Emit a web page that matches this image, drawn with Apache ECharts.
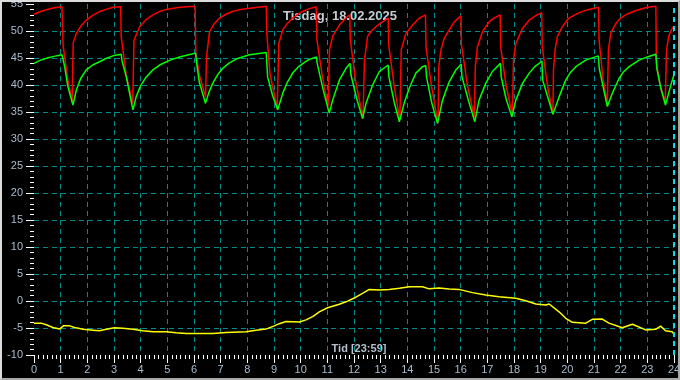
<!DOCTYPE html>
<html>
<head>
<meta charset="utf-8">
<script src="https://cdn.jsdelivr.net/npm/echarts@6/dist/echarts.min.js"></script>
<style>
html,body{margin:0;padding:0;background:#000;}
#chart{position:absolute;left:0;top:0;width:680px;height:380px;}
#frame{position:absolute;left:0;top:0;width:680px;height:380px;box-sizing:border-box;border:2px solid;border-color:#dcdcdc #a8a8a8 #a8a8a8 #dcdcdc;pointer-events:none;}
</style>
</head>
<body>
<div id="chart"></div>
<div id="frame"></div>
<script>
// Hours of day (x) and temperatures in °C (y)
const supplyTemp = [
[0,53.1],[0.25,53.6],[0.5,54.0],[0.75,54.3],[1.05,54.5],
[1.09,47.4],[1.27,41.0],[1.43,36.8],
[1.46,36.8],[1.47,47.8],[1.59,49.6],[1.77,51.0],[1.96,52.0],[2.2,52.9],[2.46,53.6],[2.7,54.0],[2.96,54.4],[3.25,54.5],
[3.27,48.9],[3.46,41.8],[3.70,36.6],
[3.74,36.6],[3.75,48.3],[3.96,50.8],[4.2,52.1],[4.46,53.0],[4.7,53.6],[4.96,54.0],[5.46,54.4],[6.04,54.6],
[6.07,45.9],[6.2,41.9],[6.43,37.8],
[6.46,37.8],[6.47,45.2],[6.58,49.8],[6.75,51.3],[6.96,52.4],[7.2,53.1],[7.45,53.6],[7.75,54.0],[8.08,54.2],[8.40,54.4],[8.71,54.6],
[8.73,49.6],[8.85,42.0],[9.12,35.7],
[9.17,35.7],[9.18,47.7],[9.33,50.2],[9.5,51.4],[9.70,52.4],[9.9,53.1],[10.07,53.6],[10.3,54.1],[10.58,54.5],
[10.61,48.3],[10.8,42.0],[11.03,36.0],
[11.07,36.0],[11.08,46.5],[11.2,49.0],[11.45,51.1],[11.7,52.4],[11.84,53.0],
[11.86,48.5],[12.05,41.0],[12.34,33.8],
[12.38,33.8],[12.39,44.6],[12.51,49.0],[12.65,50.0],[12.82,50.8],[13.07,51.7],[13.28,52.4],
[13.30,47.5],[13.5,40.0],[13.72,33.5],
[13.76,33.5],[13.77,46.5],[13.95,49.6],[14.2,51.1],[14.45,52.4],[14.68,53.0],
[14.70,47.0],[14.9,40.0],[15.15,32.9],
[15.17,32.9],[15.18,43.4],[15.26,46.5],[15.38,48.6],[15.57,50.2],[15.76,51.7],[16.01,52.8],
[16.03,47.5],[16.25,40.0],[16.51,34.1],
[16.54,34.1],[16.55,43.4],[16.63,47.1],[16.82,49.9],[17.07,51.7],[17.25,52.4],[17.48,53.0],
[17.50,47.0],[17.7,40.0],[17.94,34.4],
[17.97,34.4],[17.98,44.6],[18.07,47.7],[18.32,50.5],[18.57,52.0],[18.8,52.8],[19.04,53.4],
[19.06,47.0],[19.25,40.0],[19.46,34.6],
[19.47,34.6],[19.48,42.8],[19.54,46.5],[19.63,49.0],[19.81,50.8],[20.06,52.4],[20.44,53.4],[20.81,54.0],[21.17,54.4],
[21.19,48.3],[21.33,41.5],[21.50,36.5],
[21.53,36.4],[21.54,46.5],[21.63,49.6],[21.82,51.4],[22.0,52.4],[22.19,53.0],[22.57,53.8],[23.0,54.4],[23.32,54.6],
[23.34,44.0],[23.48,40.0],[23.67,36.9],
[23.71,36.9],[23.72,46.5],[23.80,49.0],[23.9,50.2],[24,50.9]
];

const returnTemp = [
[0,44.0],[0.25,44.6],[0.5,45.0],[0.75,45.3],[1.05,45.6],
[1.1,44.5],[1.15,43.4],[1.27,39.7],[1.46,36.3],
[1.59,39.1],[1.75,41.2],[1.96,42.8],[2.2,43.7],[2.46,44.3],[2.7,44.9],[2.96,45.4],[3.27,45.7],
[3.30,44.5],[3.46,41.5],[3.71,35.4],
[3.83,37.8],[4.0,39.9],[4.21,41.5],[4.46,42.8],[4.71,43.7],[5.1,44.6],[5.46,45.2],[5.8,45.6],[6.06,45.9],
[6.1,44.0],[6.2,40.5],[6.43,36.6],
[6.55,38.5],[6.7,40.3],[6.9,42.0],[7.08,43.1],[7.3,44.0],[7.58,44.8],[8.08,45.6],[8.71,46.0],
[8.76,41.5],[8.95,38.0],[9.14,35.4],
[9.33,38.5],[9.5,40.5],[9.7,42.2],[9.9,43.3],[10.09,44.0],[10.3,44.7],[10.59,45.2],
[10.62,44.0],[10.85,39.0],[11.07,34.8],
[11.2,37.2],[11.45,40.9],[11.7,43.1],[11.85,44.0],
[11.88,42.0],[12.1,37.5],[12.32,33.8],
[12.45,36.6],[12.7,40.0],[12.95,42.5],[13.28,43.7],
[13.31,41.5],[13.5,37.0],[13.70,33.2],
[13.88,36.6],[14.07,39.4],[14.32,42.2],[14.57,43.4],[14.69,43.6],
[14.72,41.5],[14.9,37.0],[15.13,32.9],
[15.32,37.2],[15.57,40.6],[15.82,42.8],[16.02,43.9],
[16.05,41.5],[16.3,37.0],[16.53,33.2],
[16.69,37.2],[16.94,40.3],[17.19,42.5],[17.49,44.0],
[17.52,41.5],[17.7,37.5],[17.92,34.1],
[18.07,37.2],[18.32,40.3],[18.57,42.2],[18.8,43.5],[19.05,44.4],
[19.07,41.0],[19.25,38.0],[19.46,34.6],
[19.69,37.8],[19.94,40.9],[20.1,42.2],[20.32,43.4],[20.69,44.6],[21.16,45.4],
[21.2,43.0],[21.5,36.0],
[21.69,38.5],[21.94,41.2],[22.1,42.4],[22.32,43.4],[22.69,44.6],[23.0,45.2],[23.32,45.7],
[23.36,43.0],[23.5,39.5],[23.68,36.3],
[23.8,38.5],[23.9,40.3],[24,41.9]
];

const outdoorTemp = [
[0,-4.1],[0.27,-4.1],[0.46,-4.4],[0.71,-4.9],[0.96,-5.2],[1.1,-4.6],[1.34,-4.6],[1.52,-4.9],[1.84,-5.25],
[2.21,-5.4],[2.46,-5.5],[2.71,-5.25],[3.02,-4.95],[3.33,-5.05],[3.71,-5.25],[4.08,-5.5],[4.46,-5.7],[4.96,-5.7],
[5.33,-5.9],[5.71,-6.0],[6.21,-6.0],[6.71,-6.0],[7.2,-5.85],[7.95,-5.7],[8.33,-5.4],[8.7,-5.2],[9.01,-4.6],
[9.2,-4.2],[9.45,-3.8],[9.95,-3.9],[10.2,-3.5],[10.45,-2.9],[10.7,-2.0],[11.01,-1.25],[11.45,-0.6],[11.7,-0.15],
[12.07,0.7],[12.32,1.4],[12.57,2.15],[12.95,2.05],[13.32,2.15],[13.7,2.35],[14.07,2.65],[14.57,2.65],[14.82,2.25],
[15.19,2.4],[15.57,2.2],[15.94,2.15],[16.44,1.55],[16.94,1.1],[17.44,0.8],[18.07,0.5],[18.44,0.05],[18.82,-0.55],
[19.19,-0.75],[19.32,-0.55],[19.69,-2.0],[19.94,-3.2],[20.19,-3.95],[20.69,-4.1],[20.94,-3.4],[21.31,-3.35],
[21.56,-4.1],[22.06,-4.95],[22.44,-4.3],[22.94,-5.35],[23.31,-5.25],[23.5,-4.65],[23.68,-5.5],[23.93,-5.7],[24,-6.1]
];

const titleText = 'Tisdag, 18.02.2025';
const xAxisTitle = 'Tid [23:59]';
const yAxisTitle = '°C';
const nowMarker = 24;

const labelColor = '#a9bccf';
const gridColor = '#008c8c';
const font = 'Liberation Sans, Arial, sans-serif';

const chart = echarts.init(document.getElementById('chart'));
chart.setOption({
  animation: false,
  backgroundColor: '#000',
  grid: { left: 34, right: 6, top: 4, bottom: 25, containLabel: false, outerBoundsMode: 'none' },
  xAxis: {
    type: 'value', min: 0, max: 24, interval: 1,
    axisLine: { show: false, onZero: false },
    axisTick: { show: true, length: 8, lineStyle: { color: '#fff', width: 1 } },
    minorTick: { show: true, splitNumber: 6, length: 4, lineStyle: { color: '#fff', width: 1 } },
    axisLabel: { color: labelColor, fontSize: 11, fontFamily: font, margin: 9, showMinLabel: true, showMaxLabel: true },
    splitLine: { show: true, showMinLine: false, showMaxLine: false, lineStyle: { color: gridColor, type: [5, 4], width: 1 } }
  },
  yAxis: {
    type: 'value', min: -10, max: 55, interval: 5,
    name: yAxisTitle, nameLocation: 'middle', nameRotate: 90, nameGap: 22,
    nameTextStyle: { color: labelColor, fontSize: 11, fontWeight: 'bold', fontFamily: font },
    axisLine: { show: false, onZero: false },
    axisTick: { show: true, length: 8, lineStyle: { color: '#fff', width: 1 } },
    minorTick: { show: true, splitNumber: 5, length: 4, lineStyle: { color: '#fff', width: 1 } },
    axisLabel: { color: labelColor, fontSize: 11, fontFamily: font, margin: 11, showMinLabel: true, showMaxLabel: true },
    splitLine: { show: true, showMinLine: false, showMaxLine: false, lineStyle: { color: gridColor, type: [5, 4], width: 1 } }
  },
  graphic: [
    { type: 'text', left: 'center', top: 10, style: { text: titleText, fill: '#c8ccd2', font: 'bold 13px ' + font } },
    { type: 'text', x: 359, y: 349, style: { text: xAxisTitle, fill: '#b4c0cc', font: 'bold 11px ' + font, align: 'center', verticalAlign: 'middle' } }
  ],
  series: [
    { type: 'line', name: 'Ute', data: outdoorTemp, showSymbol: false, lineStyle: { color: '#ffff00', width: 1.5 }, itemStyle: { color: '#ffff00' },
      markLine: { silent: true, symbol: 'none', label: { show: false }, data: [{ xAxis: nowMarker }],
        lineStyle: { color: '#00e0e8', type: [5, 4], width: 2 } } },
    { type: 'line', name: 'Tur', data: supplyTemp, showSymbol: false, lineStyle: { color: '#ff0000', width: 1.5 }, itemStyle: { color: '#ff0000' } },
    { type: 'line', name: 'Retur', data: returnTemp, showSymbol: false, lineStyle: { color: '#00ff00', width: 1.5 }, itemStyle: { color: '#00ff00' } }
  ]
});
</script>
</body>
</html>
